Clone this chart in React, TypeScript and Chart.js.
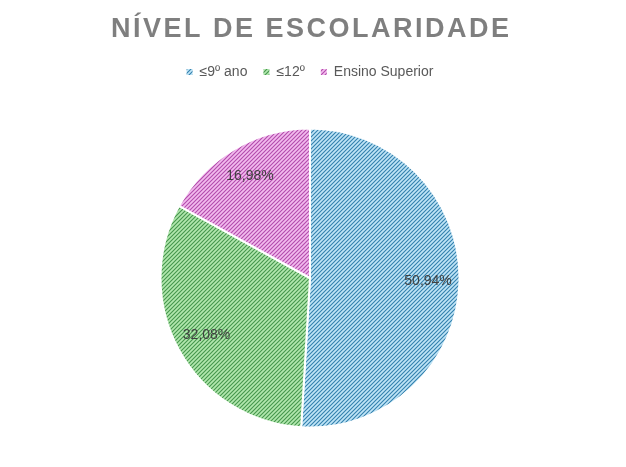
import React, { useEffect, useRef } from 'react';
import { Chart, ArcElement, PieController, Legend } from 'chart.js';

Chart.register(ArcElement, PieController, Legend);

const chartTitle = 'NÍVEL DE ESCOLARIDADE';
const categories = ['≤9º ano', '≤12º', 'Ensino Superior'];
const shares = [50.94, 32.08, 16.98];

// hatch colours: light background + dark diagonal stroke
const hatchBack = ['#c0e5f7', '#b2e8ae', '#f3bbee'];
const hatchLine = ['#3380ad', '#45964c', '#b24bab'];

const FONT = '"Liberation Sans", Arial, sans-serif';

function makeHatch(bg: string, fg: string): CanvasPattern | string {
  const tile = document.createElement('canvas');
  tile.width = 4;
  tile.height = 4;
  const g = tile.getContext('2d');
  if (!g) return bg;
  g.fillStyle = bg;
  g.fillRect(0, 0, 4, 4);
  g.strokeStyle = fg;
  g.lineWidth = 1.1;
  g.beginPath();
  g.moveTo(-1, 5);
  g.lineTo(5, -1);
  g.moveTo(-1, 1);
  g.lineTo(1, -1);
  g.moveTo(3, 5);
  g.lineTo(5, 3);
  g.stroke();
  return g.createPattern(tile, 'repeat') ?? bg;
}

// title with letter spacing, drawn char by char
const spacedTitle = {
  id: 'spacedTitle',
  afterDraw(chart: Chart) {
    const ctx = chart.ctx;
    ctx.save();
    ctx.font = `bold 27px ${FONT}`;
    ctx.fillStyle = '#7f7f7f';
    ctx.textBaseline = 'alphabetic';
    const spacing = 2.5;
    const chars = [...chartTitle];
    const widths = chars.map(ch => ctx.measureText(ch).width);
    const total = widths.reduce((a, b) => a + b, 0) + spacing * (chars.length - 1);
    let x = 310 - total / 2;
    chars.forEach((ch, i) => {
      ctx.fillText(ch, x, 37);
      x += widths[i] + spacing;
    });
    ctx.restore();
  },
};

// percentage labels inside each slice
const sliceLabels = {
  id: 'sliceLabels',
  afterDatasetsDraw(chart: Chart) {
    const ctx = chart.ctx;
    const meta = chart.getDatasetMeta(0);
    ctx.save();
    ctx.font = `14px ${FONT}`;
    ctx.fillStyle = '#404040';
    ctx.textAlign = 'center';
    ctx.textBaseline = 'middle';
    meta.data.forEach((arc: any, i: number) => {
      const { x, y, startAngle, endAngle, outerRadius } = arc.getProps(
        ['x', 'y', 'startAngle', 'endAngle', 'outerRadius'],
        true
      );
      const mid = (startAngle + endAngle) / 2;
      const r = outerRadius * 0.79;
      const text = shares[i].toFixed(2).replace('.', ',') + '%';
      ctx.fillText(text, x + Math.cos(mid) * r, y + Math.sin(mid) * r);
    });
    ctx.restore();
  },
};

const App: React.FC = () => {
  const canvasRef = useRef<HTMLCanvasElement>(null);
  const chartRef = useRef<Chart | null>(null);

  useEffect(() => {
    if (!canvasRef.current) return;
    if (chartRef.current) chartRef.current.destroy();

    const fills = categories.map((_, i) => makeHatch(hatchBack[i], hatchLine[i]));
    const baseLabels = (Chart as any).overrides.pie.plugins.legend.labels.generateLabels;

    chartRef.current = new Chart(canvasRef.current, {
      type: 'pie',
      data: {
        labels: categories,
        datasets: [
          {
            data: shares,
            backgroundColor: fills as any,
            borderColor: '#ffffff',
            borderWidth: 2,
          },
        ],
      },
      options: {
        responsive: true,
        maintainAspectRatio: false,
        animation: false,
        layout: {
          padding: { top: 49, left: 159.5, right: 165.5, bottom: -2 },
        },
        plugins: {
          legend: {
            position: 'top',
            labels: {
              boxWidth: 6,
              boxHeight: 6,
              padding: 16,
              color: '#595959',
              font: { family: FONT, size: 14 },
              generateLabels: (chart: Chart) =>
                baseLabels(chart).map((l: any) => ({ ...l, lineWidth: 0 })),
            },
          },
          tooltip: { enabled: false },
        },
      },
      plugins: [spacedTitle, sliceLabels],
    });

    return () => {
      if (chartRef.current) {
        chartRef.current.destroy();
        chartRef.current = null;
      }
    };
  }, []);

  return (
    <div
      style={{
        position: 'fixed',
        left: 0,
        top: 0,
        width: 626,
        height: 467,
        background: '#ffffff',
      }}
    >
      <canvas ref={canvasRef}></canvas>
    </div>
  );
};

export default App;
